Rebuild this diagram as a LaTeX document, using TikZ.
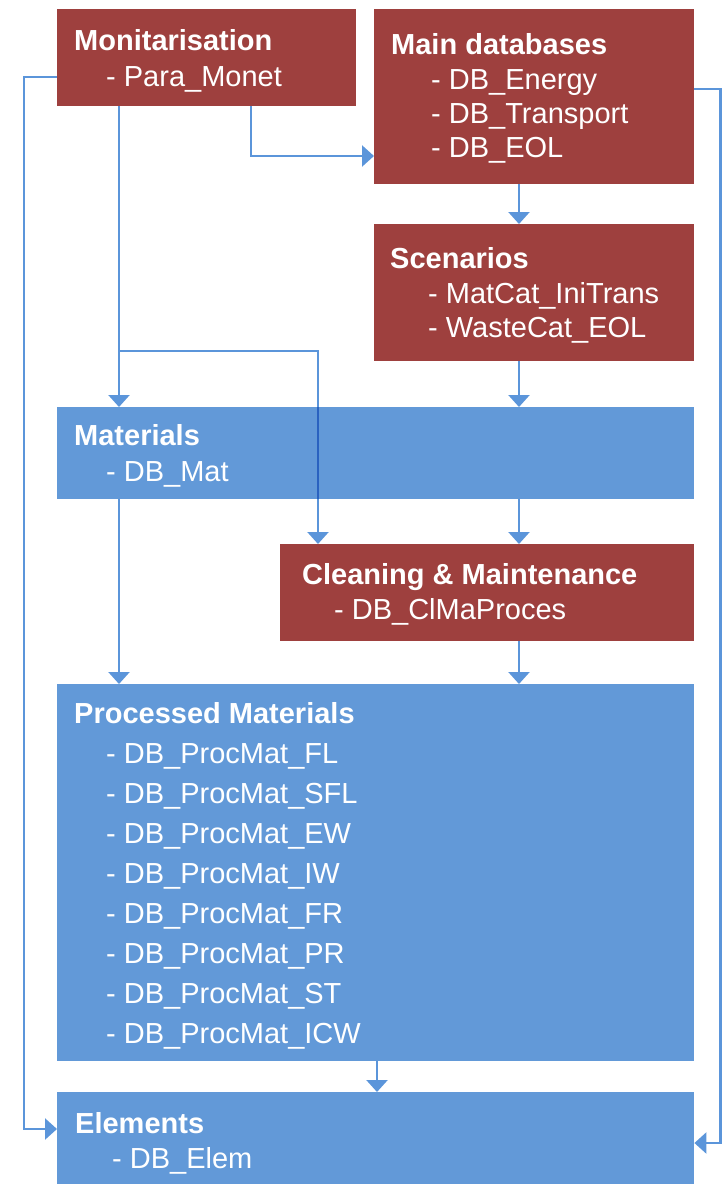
\documentclass[tikz,border=0pt]{standalone}
\usepackage{fontspec}
\setmainfont{Liberation Sans}
\usepackage{tikz}
\usetikzlibrary{arrows.meta}
\definecolor{boxred}{RGB}{158,64,62}
\definecolor{boxblue}{RGB}{98,153,216}
\definecolor{lineblue}{RGB}{91,149,218}
\definecolor{lineover}{RGB}{42,98,192}

\tikzset{
  redbox/.style={fill=boxred, anchor=north west, inner sep=0pt},
  bluebox/.style={fill=boxblue, anchor=north west, inner sep=0pt},
  head/.style={anchor=base west, text=white, inner sep=0pt, font=\fontsize{29}{34}\selectfont\bfseries},
  item/.style={anchor=base west, text=white, inner sep=0pt, font=\fontsize{29}{34}\selectfont},
  conn/.style={draw=lineblue, line width=2.4pt, -{Triangle[length=12pt,width=21pt]}}
}

\begin{document}
\begin{tikzpicture}[x=1pt,y=-1pt]
\useasboundingbox (0,0) rectangle (722,1184);
%boxes
\node[redbox, minimum width=299pt, minimum height=97pt] (mon) at (57,9) {};
\node[redbox, minimum width=320pt, minimum height=175pt] (maindb) at (374,9) {};
\node[redbox, minimum width=320pt, minimum height=137pt] (scen) at (374,224) {};
\node[bluebox, minimum width=637pt, minimum height=92pt] (mat) at (57,407) {};
\node[redbox, minimum width=414pt, minimum height=97pt] (clean) at (280,544) {};
\node[bluebox, minimum width=637pt, minimum height=377pt] (proc) at (57,684) {};
\node[bluebox, minimum width=637pt, minimum height=92pt] (elem) at (57,1092) {};

%texts
\node[head] (t-mon) at (74,50) {Monitarisation};
\node[item] (t-mon1) at (106,86) {- Para\_Monet};
\node[head] (t-main) at (391,54) {Main databases};
\node[item] (t-main1) at (431,89) {- DB\_Energy};
\node[item] (t-main2) at (431,123) {- DB\_Transport};
\node[item] (t-main3) at (431,157) {- DB\_EOL};
\node[head] (t-scen) at (390,268) {Scenarios};
\node[item] (t-scen1) at (428,303) {- MatCat\_IniTrans};
\node[item] (t-scen2) at (428,337) {- WasteCat\_EOL};
\node[head] (t-mat) at (74,445) {Materials};
\node[item] (t-mat1) at (106,481) {- DB\_Mat};
\node[head] (t-clean) at (302,584) {Cleaning \& Maintenance};
\node[item] (t-clean1) at (334,619) {- DB\_ClMaProces};
\node[head] (t-proc) at (74,723) {Processed Materials};
\node[item] (t-proc1) at (106,763) {- DB\_ProcMat\_FL};
\node[item] (t-proc2) at (106,803) {- DB\_ProcMat\_SFL};
\node[item] (t-proc3) at (106,843) {- DB\_ProcMat\_EW};
\node[item] (t-proc4) at (106,883) {- DB\_ProcMat\_IW};
\node[item] (t-proc5) at (106,923) {- DB\_ProcMat\_FR};
\node[item] (t-proc6) at (106,963) {- DB\_ProcMat\_PR};
\node[item] (t-proc7) at (106,1003) {- DB\_ProcMat\_ST};
\node[item] (t-proc8) at (106,1043) {- DB\_ProcMat\_ICW};
\node[head] (t-elem) at (75,1133) {Elements};
\node[item] (t-elem1) at (112,1168) {- DB\_Elem};

%columns and rows of the connectors
\coordinate (railL) at (24,0);
\coordinate (railR) at (720.5,0);
\coordinate (colA) at (119,0);
\coordinate (colB) at (251,0);
\coordinate (colC) at (318,0);
\coordinate (colD) at (519,0);
\coordinate (colE) at (377,0);
\coordinate (rowMon) at (0,77);
\coordinate (rowMain) at (0,89);
\coordinate (rowTop) at (0,156);
\coordinate (rowBr) at (0,351);
\coordinate (rowElL) at (0,1129);
\coordinate (rowElR) at (0,1143);
\coordinate (br) at (colA |- rowBr);

%connectors
\draw[conn] (mon.west |- rowMon) -| (railL |- rowElL) -- (elem.west |- rowElL);
\draw[conn] (maindb.east |- rowMain) -| (railR |- rowElR) -- (elem.east |- rowElR);
\draw[conn] (mon.south -| colB) |- (maindb.west |- rowTop);
\draw[conn] (mon.south -| colA) -- (mat.north -| colA);
\draw[conn] (br) -| (clean.north -| colC);
\draw[lineover, line width=2.4pt] (mat.north -| colC) -- (mat.south -| colC);
\draw[conn] (maindb.south -| colD) -- (scen.north -| colD);
\draw[conn] (scen.south -| colD) -- (mat.north -| colD);
\draw[conn] (mat.south -| colD) -- (clean.north -| colD);
\draw[conn] (clean.south -| colD) -- (proc.north -| colD);
\draw[conn] (mat.south -| colA) -- (proc.north -| colA);
\draw[conn] (proc.south -| colE) -- (elem.north -| colE);
\end{tikzpicture}
\end{document}
